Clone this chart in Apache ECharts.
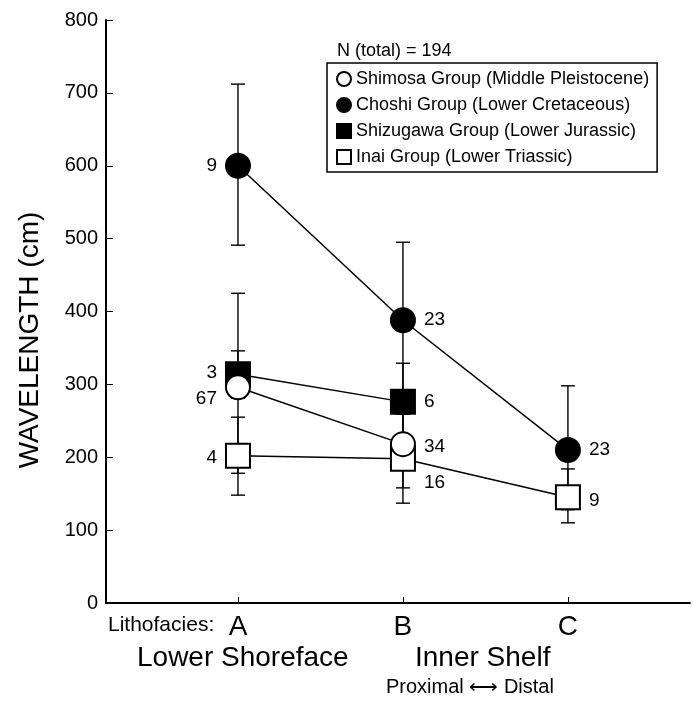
<!DOCTYPE html>
<html>
<head>
<meta charset="utf-8">
<script src="https://cdn.jsdelivr.net/npm/echarts@6/dist/echarts.min.js"></script>
<style>
  html, body { margin: 0; padding: 0; background: #fff; }
  #main { width: 693px; height: 701px; }
</style>
</head>
<body>
<div id="main"></div>
<script>
// 岩相位置 A/B/C
var facies = ['A', 'B', 'C'];
var faciesPos = [1, 2, 3];
var yTicks = [0, 100, 200, 300, 400, 500, 600, 700, 800];

// 各组数据：平均值、误差上下限、样本数
var shimosaMean = [296, 218];
var shimosaLow = [178, 158];
var shimosaHigh = [425, 278];
var shimosaN = [67, 34];

var choshiMean = [600, 388, 210];
var choshiLow = [491, 282, 128];
var choshiHigh = [712, 495, 298];
var choshiN = [9, 23, 23];

var shizugawaMean = [314, 276];
var shizugawaLow = [281, 224];
var shizugawaHigh = [346, 329];
var shizugawaN = [3, 6];

var inaiMean = [202, 198, 145];
var inaiLow = [148, 137, 110];
var inaiHigh = [255, 259, 184];
var inaiN = [4, 16, 9];

var nTotal = 194;

var FONT = "'Liberation Sans', Arial, sans-serif";
var myChart = echarts.init(document.getElementById('main'));

// 标签竖直偏移（样式，不是数据）
function points(mean, n, shifts) {
    return mean.map(function (v, i) {
        return {
            value: [faciesPos[i], v, n[i]],
            label: { position: i === 0 ? 'left' : 'right', offset: [0, shifts[i] || 0] }
        };
    });
}
function linePts(mean) {
    return mean.map(function (v, i) { return [faciesPos[i], v]; });
}
function barPts(low, high) {
    return low.map(function (v, i) { return [faciesPos[i], v, high[i]]; });
}

function renderBar(params, api) {
    var x = api.value(0);
    var top = api.coord([x, api.value(2)]);
    var bot = api.coord([x, api.value(1)]);
    var w = 7;
    var st = { stroke: '#000', lineWidth: 1.4 };
    return {
        type: 'group',
        children: [
            { type: 'line', shape: { x1: top[0], y1: top[1], x2: bot[0], y2: bot[1] }, style: st },
            { type: 'line', shape: { x1: top[0] - w, y1: top[1], x2: top[0] + w, y2: top[1] }, style: st },
            { type: 'line', shape: { x1: bot[0] - w, y1: bot[1], x2: bot[0] + w, y2: bot[1] }, style: st }
        ]
    };
}

var groups = [
    { name: 'Shimosa Group (Middle Pleistocene)', mean: shimosaMean, low: shimosaLow, high: shimosaHigh, n: shimosaN,
      symbol: 'circle', fill: '#fff', shifts: [11, 3], z: 8 },
    { name: 'Choshi Group (Lower Cretaceous)', mean: choshiMean, low: choshiLow, high: choshiHigh, n: choshiN,
      symbol: 'circle', fill: '#000', shifts: [0, 0, 0], z: 9 },
    { name: 'Shizugawa Group (Lower Jurassic)', mean: shizugawaMean, low: shizugawaLow, high: shizugawaHigh, n: shizugawaN,
      symbol: 'rect', fill: '#000', shifts: [-1, 0], z: 7 },
    { name: 'Inai Group (Lower Triassic)', mean: inaiMean, low: inaiLow, high: inaiHigh, n: inaiN,
      symbol: 'rect', fill: '#fff', shifts: [2, 24, 3], z: 6 }
];

var series = [];
groups.forEach(function (g) {
    series.push({
        name: g.name + ' bars',
        type: 'custom',
        renderItem: renderBar,
        encode: { x: 0, y: [1, 2] },
        data: barPts(g.low, g.high),
        z: 2,
        silent: true
    });
    series.push({
        name: g.name + ' line',
        type: 'line',
        data: linePts(g.mean),
        symbol: 'none',
        lineStyle: { color: '#000', width: 1.5 },
        z: 3,
        silent: true
    });
});
groups.forEach(function (g) {
    series.push({
        name: g.name,
        type: 'scatter',
        symbol: g.symbol,
        symbolSize: 24,
        data: points(g.mean, g.n, g.shifts),
        itemStyle: { color: g.fill, borderColor: '#000', borderWidth: 2, opacity: 1 },
        label: {
            show: true,
            distance: 8,
            color: '#000',
            fontSize: 19,
            fontFamily: FONT,
            formatter: function (p) { return p.value[2]; }
        },
        z: g.z
    });
});

var option = {
    backgroundColor: '#fff',
    animation: false,
    textStyle: { fontFamily: FONT, color: '#000' },
    grid: { left: 106, right: 3, top: 20, bottom: 98 },
    legend: {
        orient: 'vertical',
        left: 327,
        top: 63,
        data: groups.map(function (g) { return g.name; }),
        itemWidth: 14,
        itemHeight: 14,
        itemGap: 8,
        itemTextGap: 9,
        padding: [7, 8, 6, 9],
        borderColor: '#000',
        borderWidth: 1.5,
        backgroundColor: '#fff',
        textStyle: { fontSize: 18, color: '#000', fontFamily: FONT }
    },
    xAxis: {
        type: 'value',
        min: 0.2,
        max: 3.74,
        splitLine: { show: false },
        axisLine: { lineStyle: { color: '#000', width: 2 } },
        axisTick: { inside: true, length: 6, customValues: faciesPos, lineStyle: { color: '#000' } },
        axisLabel: {
            customValues: faciesPos,
            margin: 10,
            fontSize: 28,
            color: '#000',
            fontFamily: FONT,
            formatter: function (v) { return facies[Math.round(v) - 1]; }
        }
    },
    yAxis: {
        type: 'value',
        min: 0,
        max: 800,
        interval: 100,
        splitLine: { show: false },
        axisLine: { show: true, lineStyle: { color: '#000', width: 2 } },
        axisTick: { inside: true, length: 7, lineStyle: { color: '#000' } },
        axisLabel: { fontSize: 20, margin: 8, color: '#000', fontFamily: FONT,
            formatter: function (v) { return yTicks.indexOf(v) >= 0 ? String(v) : ''; } }
    },
    graphic: [
        { type: 'text', x: 30, y: 340, rotation: Math.PI / 2,
          style: { text: 'WAVELENGTH (cm)', font: '28px ' + FONT, fill: '#000', align: 'center', verticalAlign: 'middle' } },
        { type: 'text', left: 337, top: 42, style: { text: 'N (total) = ' + nTotal, font: '18px ' + FONT, fill: '#000' } },
        { type: 'text', left: 108, top: 615, style: { text: 'Lithofacies:', font: '21px ' + FONT, fill: '#000' } },
        { type: 'text', left: 137, top: 644, style: { text: 'Lower Shoreface', font: '28px ' + FONT, fill: '#000' } },
        { type: 'text', left: 415, top: 644, style: { text: 'Inner Shelf', font: '28px ' + FONT, fill: '#000' } },
        { type: 'text', left: 386, top: 677, style: { text: 'Proximal \u27F7 Distal', font: '20px ' + FONT, fill: '#000' } }
    ],
    series: series
};

myChart.setOption(option);
</script>
</body>
</html>
